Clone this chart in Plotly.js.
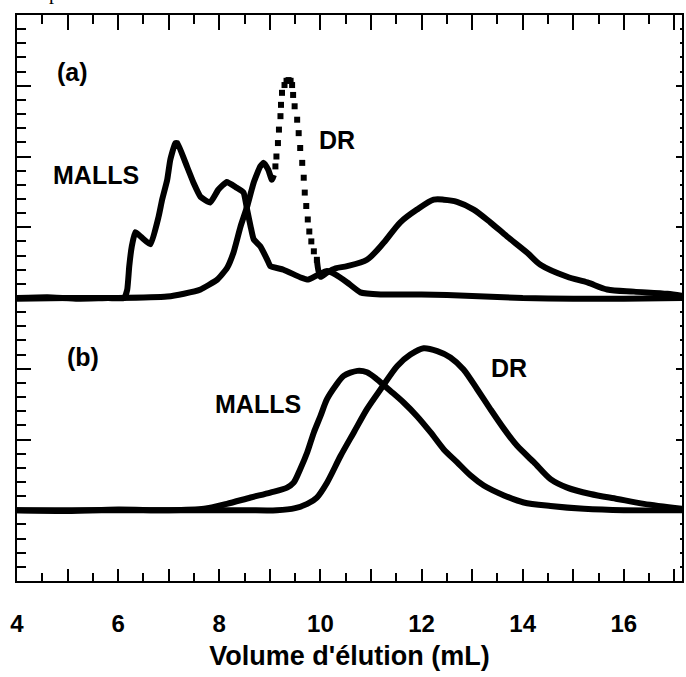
<!DOCTYPE html>
<html>
<head>
<meta charset="utf-8">
<script src="https://cdn.plot.ly/plotly-3.0.1.min.js"></script>
<style>html,body{margin:0;padding:0;background:#fff;}#chart{width:686px;height:677px;}</style>
</head>
<body>
<div id="chart"></div>
<script>
// ---- data (elution volume in mL, offset detector signal) ----
const mallsA_x = [4.0, 4.6, 5.2, 5.8, 6.12, 6.18, 6.22, 6.27, 6.34, 6.46, 6.64, 6.80, 6.87, 6.97, 7.03, 7.13, 7.17, 7.36, 7.49, 7.63, 7.82, 7.98, 8.15, 8.34, 8.48, 8.55, 8.62, 8.68, 8.81, 8.95, 9.01, 9.27, 9.61, 9.76, 9.96, 10.13, 10.30, 10.53, 10.79, 11.19, 12.0, 13.0, 14.0, 15.0, 16.0, 17.15];
const mallsA_y = [4.0, 4.01, 3.99, 4.0, 4.0, 4.12, 4.45, 4.73, 4.93, 4.86, 4.76, 5.15, 5.39, 5.67, 5.95, 6.19, 6.19, 5.86, 5.63, 5.43, 5.35, 5.53, 5.64, 5.56, 5.49, 5.25, 5.01, 4.83, 4.73, 4.54, 4.45, 4.40, 4.29, 4.26, 4.33, 4.38, 4.33, 4.22, 4.08, 4.05, 4.05, 4.03, 4.0, 3.99, 3.99, 4.0];

const drA1_x = [4.0, 5.0, 6.0, 6.97, 7.3, 7.63, 7.96, 8.15, 8.28, 8.42, 8.55, 8.68, 8.81, 8.88, 8.97, 9.04, 9.08];
const drA1_y = [3.99, 4.0, 4.0, 4.02, 4.06, 4.12, 4.26, 4.42, 4.64, 5.01, 5.29, 5.63, 5.86, 5.91, 5.81, 5.67, 5.74];
const drADots_x = [9.11, 9.13, 9.16, 9.18, 9.21, 9.22, 9.24, 9.29, 9.33, 9.37, 9.41, 9.44, 9.46, 9.49, 9.54, 9.57, 9.60, 9.64, 9.67, 9.69, 9.72, 9.75, 9.78, 9.82, 9.87, 9.93];
const drADots_y = [5.86, 6.00, 6.19, 6.38, 6.57, 6.73, 6.90, 7.01, 7.07, 7.08, 7.07, 7.01, 6.87, 6.71, 6.52, 6.33, 6.12, 5.91, 5.70, 5.49, 5.30, 5.11, 4.94, 4.80, 4.66, 4.54];
const drA2_x = [9.93, 10.0, 10.13, 10.3, 10.53, 10.92, 11.25, 11.58, 11.91, 12.24, 12.44, 12.70, 13.03, 13.36, 13.69, 14.09, 14.35, 14.88, 15.28, 15.67, 16.20, 16.86, 17.15];
const drA2_y = [4.54, 4.30, 4.36, 4.42, 4.45, 4.54, 4.78, 5.07, 5.25, 5.39, 5.39, 5.36, 5.25, 5.07, 4.87, 4.64, 4.47, 4.30, 4.22, 4.12, 4.09, 4.06, 4.03];

const mallsB_x = [4.0, 5.0, 6.0, 7.0, 7.7, 8.15, 8.62, 9.01, 9.34, 9.47, 9.60, 9.74, 9.87, 10.0, 10.13, 10.30, 10.46, 10.73, 10.92, 11.12, 11.38, 11.65, 11.91, 12.18, 12.44, 12.70, 12.97, 13.23, 13.63, 14.02, 14.55, 15.21, 16.0, 17.15];
const mallsB_y = [1.0, 0.99, 1.01, 1.0, 1.02, 1.09, 1.18, 1.25, 1.32, 1.39, 1.58, 1.82, 2.10, 2.33, 2.57, 2.76, 2.90, 2.97, 2.95, 2.85, 2.69, 2.52, 2.33, 2.10, 1.86, 1.68, 1.49, 1.35, 1.21, 1.11, 1.06, 1.02, 1.0, 1.0];

const drB_x = [4.0, 5.5, 7.0, 8.5, 9.14, 9.5, 9.74, 9.93, 10.13, 10.40, 10.66, 10.92, 11.19, 11.52, 11.78, 12.04, 12.31, 12.57, 12.83, 13.10, 13.36, 13.63, 13.89, 14.22, 14.55, 14.88, 15.34, 15.87, 16.40, 17.15];
const drB_y = [1.0, 1.0, 1.0, 1.0, 1.0, 1.03, 1.09, 1.18, 1.39, 1.77, 2.10, 2.43, 2.71, 3.04, 3.20, 3.29, 3.25, 3.16, 2.99, 2.71, 2.43, 2.15, 1.91, 1.68, 1.44, 1.32, 1.23, 1.16, 1.09, 1.02];

const labelText = ['(a)', 'MALLS', 'DR', '(b)', 'MALLS', 'DR'];
const labelX = [5.09, 5.57, 10.32, 5.31, 8.76, 13.72];
const labelY = [7.20, 5.74, 6.24, 3.16, 2.50, 3.01];

const xTickVals = [4, 5, 6, 7, 8, 9, 10, 11, 12, 13, 14, 15, 16, 17];
const xTickText = ['4', '', '6', '', '8', '', '10', '', '12', '', '14', '', '16', ''];
const xTitle = "Volume d'élution (mL)";
const cutCaption = 'Grap 3:';

// ---- drawing ----
const FONT = 'Liberation Sans, Arial, Helvetica, sans-serif';
const sharpLine = {color: '#000', width: 6, shape: 'spline', smoothing: 0.4};
const smoothLine = {color: '#000', width: 6, shape: 'spline', smoothing: 0.8};
const traces = [
  {x: mallsA_x, y: mallsA_y, mode: 'lines', line: sharpLine, name: 'MALLS (a)'},
  {x: drA1_x, y: drA1_y, mode: 'lines', line: sharpLine, name: 'DR (a)'},
  {x: drADots_x, y: drADots_y, mode: 'markers', marker: {symbol: 'square', size: 6, color: '#000'}, name: 'DR (a) dots'},
  {x: drA2_x, y: drA2_y, mode: 'lines', line: smoothLine, name: 'DR (a) tail'},
  {x: mallsB_x, y: mallsB_y, mode: 'lines', line: smoothLine, name: 'MALLS (b)'},
  {x: drB_x, y: drB_y, mode: 'lines', line: smoothLine, name: 'DR (b)'},
  {x: [null], y: [null], xaxis: 'x2', yaxis: 'y2', mode: 'lines', hoverinfo: 'skip'}
];

const annotations = labelText.map((t, i) => ({
  x: labelX[i], y: labelY[i], xref: 'x', yref: 'y', text: t, showarrow: false,
  font: {family: FONT, size: 25, color: '#000', weight: 'bold'}
}));
annotations.push({
  x: 0.0, y: 1.016, xref: 'paper', yref: 'paper', xanchor: 'left', yanchor: 'bottom',
  text: cutCaption, showarrow: false,
  font: {family: 'Liberation Serif, Times New Roman, serif', size: 20, color: '#000'}
});

const layout = {
  width: 686, height: 677,
  margin: {l: 17, r: 4, t: 15, b: 96},
  paper_bgcolor: '#fff', plot_bgcolor: '#fff',
  showlegend: false,
  font: {family: FONT, color: '#000'},
  xaxis: {
    range: [4, 17.15], tickvals: xTickVals, ticktext: xTickText,
    ticks: 'inside', ticklen: 12, tickwidth: 2, tickcolor: '#000',
    minor: {dtick: 0.5, tick0: 4, ticks: 'inside', ticklen: 8, tickwidth: 2, tickcolor: '#000', showgrid: false},
    showline: true, linewidth: 2, linecolor: '#000', showgrid: false, zeroline: false,
    tickfont: {family: FONT, size: 24, weight: 'bold', color: '#000'},
    ticklabelstandoff: 20,
    title: {text: xTitle, standoff: 10, font: {family: FONT, size: 27, weight: 'bold', color: '#000'}}
  },
  xaxis2: {
    overlaying: 'x', side: 'top', anchor: 'y2', range: [4, 17.15],
    dtick: 1, tick0: 4, ticks: 'inside', ticklen: 15, tickwidth: 2, tickcolor: '#000',
    minor: {dtick: 0.5, tick0: 4, ticks: 'inside', ticklen: 9, tickwidth: 2, tickcolor: '#000', showgrid: false},
    showticklabels: false, showline: true, linewidth: 2, linecolor: '#000', showgrid: false, zeroline: false
  },
  yaxis: {
    range: [0, 8], dtick: 1, tick0: 0, ticks: 'inside', ticklen: 14, tickwidth: 2, tickcolor: '#000',
    minor: {dtick: 0.2, tick0: 0, ticks: 'inside', ticklen: 9, tickwidth: 2, tickcolor: '#000', showgrid: false},
    showticklabels: false, showline: true, linewidth: 2, linecolor: '#000', showgrid: false, zeroline: false
  },
  yaxis2: {
    overlaying: 'y', side: 'right', anchor: 'x2', range: [0, 8], dtick: 1, tick0: 0,
    ticks: 'inside', ticklen: 6, tickwidth: 2, tickcolor: '#000',
    minor: {dtick: 0.2, tick0: 0, ticks: 'inside', ticklen: 2, tickwidth: 2, tickcolor: '#000', showgrid: false},
    showticklabels: false, showline: true, linewidth: 2, linecolor: '#000', showgrid: false, zeroline: false
  },
  annotations: annotations
};

Plotly.newPlot('chart', traces, layout, {staticPlot: true, displayModeBar: false});
</script>
</body>
</html>
